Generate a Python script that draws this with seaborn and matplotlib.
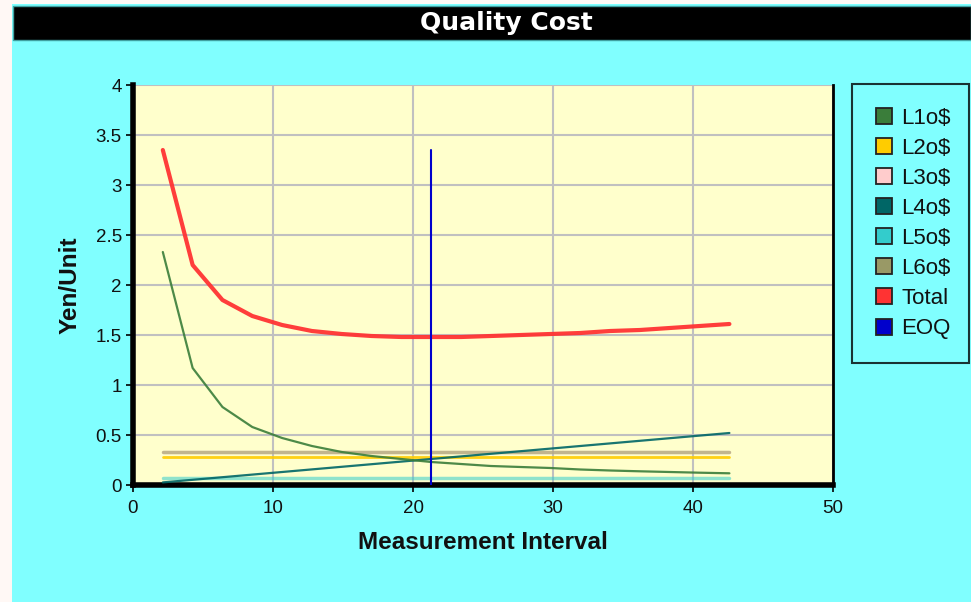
import matplotlib
matplotlib.use("Agg")
import matplotlib.pyplot as plt
from matplotlib.lines import Line2D
from matplotlib.patches import Rectangle
from matplotlib.ticker import FuncFormatter
import seaborn as sns
import pandas as pd

# Measurement interval (x) and cost per unit of each component (y)
intervals = [2.13, 4.26, 6.39, 8.52, 10.65, 12.78, 14.91, 17.04, 19.17, 21.3,
             23.43, 25.56, 27.69, 29.82, 31.95, 34.08, 36.21, 38.34, 40.47, 42.6]
l1 = [2.33, 1.17, 0.78, 0.58, 0.47, 0.39, 0.33, 0.29, 0.26, 0.23,
      0.21, 0.19, 0.18, 0.17, 0.155, 0.145, 0.137, 0.13, 0.123, 0.117]
l2 = [0.28] * 20
l3 = [0.33] * 20
l4 = [0.026, 0.052, 0.078, 0.104, 0.13, 0.156, 0.182, 0.208, 0.234, 0.26,
      0.286, 0.312, 0.338, 0.364, 0.39, 0.416, 0.442, 0.468, 0.494, 0.52]
l5 = [0.07] * 20
l6 = [0.33] * 20
total = [3.35, 2.20, 1.85, 1.69, 1.60, 1.54, 1.51, 1.49, 1.48, 1.48,
         1.48, 1.49, 1.50, 1.51, 1.52, 1.54, 1.55, 1.57, 1.59, 1.61]
eoq_x = [21.3, 21.3]
eoq_y = [0.0, 3.35]

series_names = ["L1o$", "L2o$", "L3o$", "L4o$", "L5o$", "L6o$", "Total", "EOQ"]
series_colors = ["#3a7d3a", "#ffcc00", "#ffcccc", "#006666", "#33cccc", "#999966", "#ff3333", "#0000cc"]
x_ticks = [0, 10, 20, 30, 40, 50]
y_ticks = [0, 0.5, 1, 1.5, 2, 2.5, 3, 3.5, 4]

sns.set_theme(style="white")
plt.rcParams["font.family"] = ["Liberation Sans", "DejaVu Sans"]

BG = "#80ffff"
fig = plt.figure(figsize=(9.71, 6.02), dpi=100, facecolor=BG)

# left white strip and top white edge
fig.patches.append(Rectangle((0, 0), 12 / 971, 1, transform=fig.transFigure,
                             facecolor="#fff8f5", edgecolor="none", zorder=0))
fig.patches.append(Rectangle((0, 1 - 4 / 602), 1, 4 / 602, transform=fig.transFigure,
                             facecolor="#fff8f5", edgecolor="none", zorder=0))
# title bar
fig.patches.append(Rectangle((13 / 971, 1 - 40 / 602), 1 - 13 / 971, 34 / 602,
                             transform=fig.transFigure, facecolor="black",
                             edgecolor="#40a0a0", linewidth=1, zorder=1))
fig.text(506 / 971, 1 - 23 / 602, "Quality Cost", color="white", fontsize=18,
         fontweight="bold", ha="center", va="center", zorder=2,
         family=["DejaVu Sans"])

ax = fig.add_axes([133 / 971, 117 / 602, 700 / 971, 400 / 602])
ax.set_facecolor("#ffffcc")

df = pd.DataFrame({"x": intervals, "L1o$": l1, "L2o$": l2, "L3o$": l3, "L4o$": l4,
                   "L5o$": l5, "L6o$": l6, "Total": total})

styles = {
    "L1o$": dict(lw=1.6, alpha=0.9),
    "L2o$": dict(lw=2.0, alpha=0.9),
    "L3o$": dict(lw=2.5, alpha=0.6),
    "L4o$": dict(lw=1.6, alpha=0.9),
    "L5o$": dict(lw=2.5, alpha=0.55),
    "L6o$": dict(lw=2.5, alpha=0.6),
    "Total": dict(lw=3.0, alpha=0.95),
}
order = ["L3o$", "L6o$", "L5o$", "L2o$", "L4o$", "L1o$", "Total"]
for name in order:
    c = series_colors[series_names.index(name)]
    sns.lineplot(data=df, x="x", y=name, ax=ax, color=c, linewidth=styles[name]["lw"],
                 alpha=styles[name]["alpha"], legend=False, zorder=3)

ax.plot(eoq_x, eoq_y, color=series_colors[-1], linewidth=1.5, zorder=4)

ax.set_xlim(0, 50)
ax.set_ylim(0, 4)
ax.set_xticks(x_ticks)
ax.set_yticks(y_ticks)
ax.yaxis.set_major_formatter(FuncFormatter(lambda v, p: f"{v:g}"))
ax.grid(True, color="#c0c0c0", linewidth=1.5)
ax.set_axisbelow(True)

for side in ["left", "bottom"]:
    ax.spines[side].set_color("black")
    ax.spines[side].set_linewidth(4)
ax.spines["right"].set_color("black")
ax.spines["right"].set_linewidth(2)
ax.spines["top"].set_visible(False)

ax.tick_params(axis="both", which="both", direction="out", length=5, width=1.2,
               color="black", labelsize=13.5, labelcolor="#111111",
               bottom=True, left=True)
ax.tick_params(axis="x", pad=6)
ax.tick_params(axis="y", pad=3)

ax.set_xlabel("Measurement Interval", fontsize=17.5, fontweight="bold", color="#111111", labelpad=10)
ax.set_ylabel("Yen/Unit", fontsize=17.5, fontweight="bold", color="#111111", labelpad=10)

handles = [Line2D([0], [0], linestyle="none", marker="s", markersize=11.5,
                  markerfacecolor=c, markeredgecolor="#222222", markeredgewidth=1.3)
           for c in series_colors]
leg = fig.legend(handles, series_names, loc="upper left", mode="expand",
                 bbox_to_anchor=(852 / 971, 1 - 84 / 602, 117 / 971, 0), frameon=True,
                 fontsize=16, handlelength=0.8, handletextpad=0.35,
                 labelspacing=0.41, borderpad=1.06, borderaxespad=0)
frame = leg.get_frame()
frame.set_facecolor(BG)
frame.set_edgecolor("#1a3333")
frame.set_linewidth(1.5)
frame.set_alpha(1)
frame.set_boxstyle("square", pad=0)
for t in leg.get_texts():
    t.set_color("#111111")

fig.savefig("out.png", dpi=100, facecolor=BG)
